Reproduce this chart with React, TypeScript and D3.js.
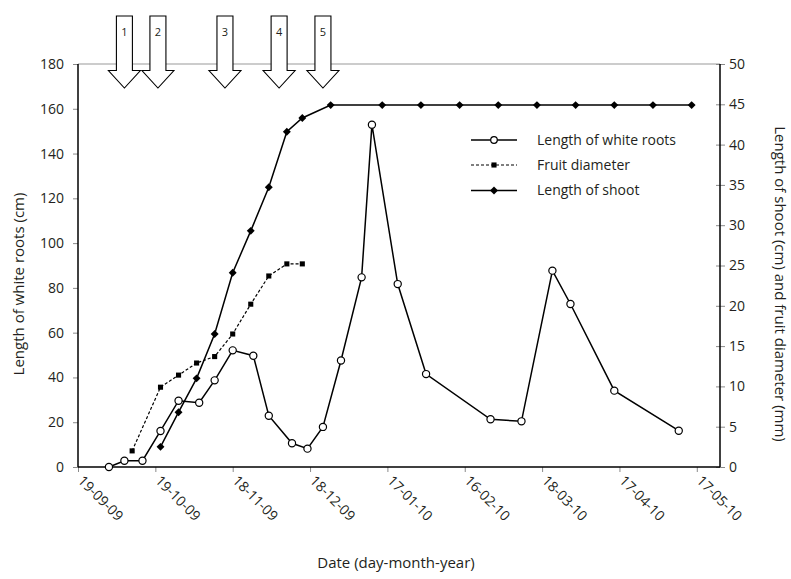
import React, { useEffect, useRef } from "react";
import * as d3 from "d3";

// tick labels on the date axis (day-month-year)
const dateTicks = ["19-09-09", "19-10-09", "18-11-09", "18-12-09", "17-01-10", "16-02-10", "18-03-10", "17-04-10", "17-05-10"];

const rootDates = [
  "2009-10-01", "2009-10-07", "2009-10-14", "2009-10-21", "2009-10-28", "2009-11-05",
  "2009-11-11", "2009-11-18", "2009-11-26", "2009-12-02", "2009-12-11", "2009-12-17",
  "2009-12-23", "2009-12-30", "2010-01-07", "2010-01-11", "2010-01-21", "2010-02-01",
  "2010-02-26", "2010-03-10", "2010-03-22", "2010-03-29", "2010-04-15", "2010-05-10",
];
const rootLength = [0, 2.8, 2.8, 16.1, 29.6, 28.7, 38.7, 52.1, 49.7, 22.9, 10.6, 8.2, 17.9, 47.6, 84.7, 152.9, 81.7, 41.5, 21.3, 20.4, 87.7, 72.8, 34.1, 16.2];

const fruitDates = [
  "2009-10-10", "2009-10-21", "2009-10-28", "2009-11-04", "2009-11-11",
  "2009-11-18", "2009-11-25", "2009-12-02", "2009-12-09", "2009-12-15",
];
const fruitDiameter = [2.0, 9.9, 11.4, 12.9, 13.7, 16.5, 20.2, 23.7, 25.2, 25.2];

const shootDates = [
  "2009-10-21", "2009-10-28", "2009-11-04", "2009-11-11", "2009-11-18", "2009-11-25",
  "2009-12-02", "2009-12-09", "2009-12-15", "2009-12-26", "2010-01-15", "2010-01-30",
  "2010-02-14", "2010-03-01", "2010-03-16", "2010-03-31", "2010-04-15", "2010-04-30", "2010-05-15",
];
const shootLength = [2.5, 6.8, 11.0, 16.5, 24.1, 29.3, 34.7, 41.6, 43.3, 44.9, 44.9, 44.9, 44.9, 44.9, 44.9, 44.9, 44.9, 44.9, 44.9];

// numbered treatment arrows above the plot
const arrowDates = ["2009-10-07", "2009-10-20", "2009-11-15", "2009-12-06", "2009-12-23"];
const arrowLabels = ["1", "2", "3", "4", "5"];

const legendLabels = ["Length of white roots", "Fruit diameter", "Length of shoot"];

const FONT = "'Open Sans', sans-serif";
const TEXT = "#231f20";

export default function App() {
  const ref = useRef<SVGSVGElement>(null);

  function drawChart() {
    const svg = d3.select(ref.current);
    svg.selectAll("*").remove();
    const width = 791;
    const height = 579;
    const marginLeft = 78;
    const marginRight = 71;
    const marginTop = 64;
    const marginBottom = 112;

    const parse = d3.utcParse("%Y-%m-%d");
    const parseTick = d3.utcParse("%d-%m-%y");

    const x = d3
      .scaleUtc()
      .domain([parse("2009-09-19"), parse("2010-05-26")])
      .range([marginLeft, width - marginRight]);
    const yLeft = d3.scaleLinear().domain([0, 180]).range([height - marginBottom, marginTop]);
    const yRight = d3.scaleLinear().domain([0, 50]).range([height - marginBottom, marginTop]);

    svg.attr("width", width).attr("height", height).attr("viewBox", [0, 0, width, height]);

    const x0 = marginLeft;
    const x1 = width - marginRight;
    const yb = height - marginBottom;

    // top border
    svg.append("line").attr("x1", x0).attr("x2", x1).attr("y1", marginTop).attr("y2", marginTop)
      .attr("stroke", "#9a9a9a").attr("stroke-width", 1.2);

    // left axis
    svg
      .append("g")
      .attr("transform", `translate(${x0},0)`)
      .call(d3.axisLeft(yLeft).tickValues(d3.range(0, 181, 20)).tickSize(5).tickPadding(9))
      .call((g) => g.select(".domain").remove())
      .call((g) => g.selectAll(".tick line").attr("stroke", "#8a8a8a"))
      .call((g) => g.selectAll("text").attr("font-family", FONT).attr("font-size", 14).attr("fill", TEXT));

    // right axis
    svg
      .append("g")
      .attr("transform", `translate(${x1},0)`)
      .call(d3.axisRight(yRight).tickValues(d3.range(0, 51, 5)).tickSize(5).tickPadding(4))
      .call((g) => g.select(".domain").remove())
      .call((g) => g.selectAll(".tick line").attr("x1", -4).attr("stroke", "#8a8a8a"))
      .call((g) => g.selectAll("text").attr("font-family", FONT).attr("font-size", 14).attr("fill", TEXT));

    // bottom axis
    const tickDates = dateTicks.map((t) => parseTick(t));
    svg
      .append("g")
      .attr("transform", `translate(0,${yb})`)
      .call(d3.axisBottom(x).tickValues(tickDates).tickSize(5).tickFormat((d, i) => dateTicks[i]))
      .call((g) => g.select(".domain").remove())
      .call((g) => g.selectAll(".tick line").attr("stroke", "#8a8a8a"))
      .call((g) =>
        g
          .selectAll("text")
          .attr("font-family", FONT)
          .attr("font-size", 14)
          .attr("fill", TEXT)
          .attr("text-anchor", "start")
          .attr("dy", "0.35em")
          .attr("y", 0)
          .attr("transform", "translate(2,11) rotate(45)")
      );

    // axis lines
    svg.append("line").attr("x1", x0).attr("x2", x0).attr("y1", marginTop).attr("y2", yb).attr("stroke", "#000").attr("stroke-width", 1.5);
    svg.append("line").attr("x1", x1).attr("x2", x1).attr("y1", marginTop).attr("y2", yb).attr("stroke", "#000").attr("stroke-width", 1.5);
    svg.append("line").attr("x1", x0).attr("x2", x1).attr("y1", yb).attr("y2", yb).attr("stroke", "#000").attr("stroke-width", 1.5);

    // axis titles
    svg.append("text")
      .attr("transform", `translate(19,284) rotate(-90)`)
      .attr("text-anchor", "middle").attr("dy", "0.35em")
      .attr("font-family", FONT).attr("font-size", 15).attr("fill", TEXT)
      .text("Length of white roots (cm)");
    svg.append("text")
      .attr("transform", `translate(780,284) rotate(90)`)
      .attr("text-anchor", "middle").attr("dy", "0.35em")
      .attr("font-family", FONT).attr("font-size", 15).attr("fill", TEXT)
      .text("Length of shoot (cm) and fruit diameter (mm)");
    svg.append("text")
      .attr("x", 396).attr("y", 568)
      .attr("text-anchor", "middle")
      .attr("font-family", FONT).attr("font-size", 15).attr("fill", TEXT)
      .text("Date (day-month-year)");

    const roots = rootDates.map((d, i) => ({ date: parse(d), value: rootLength[i] }));
    const fruit = fruitDates.map((d, i) => ({ date: parse(d), value: fruitDiameter[i] }));
    const shoot = shootDates.map((d, i) => ({ date: parse(d), value: shootLength[i] }));

    const lineLeft = d3.line<any>().x((d) => x(d.date)).y((d) => yLeft(d.value));
    const lineRight = d3.line<any>().x((d) => x(d.date)).y((d) => yRight(d.value));

    const plot = svg.append("g");

    plot.append("path").datum(fruit).attr("d", lineRight).attr("fill", "none")
      .attr("stroke", "#000").attr("stroke-width", 1.2).attr("stroke-dasharray", "3,2");
    plot.append("path").datum(shoot).attr("d", lineRight).attr("fill", "none")
      .attr("stroke", "#000").attr("stroke-width", 1.5);
    plot.append("path").datum(roots).attr("d", lineLeft).attr("fill", "none")
      .attr("stroke", "#000").attr("stroke-width", 1.5);

    const diamond = d3.symbol().type(d3.symbolDiamond2).size(40);
    const square = d3.symbol().type(d3.symbolSquare).size(26);

    plot.selectAll(".fruit").data(fruit).join("path")
      .attr("transform", (d) => `translate(${x(d.date)},${yRight(d.value)})`)
      .attr("d", square).attr("fill", "#000");
    plot.selectAll(".shoot").data(shoot).join("path")
      .attr("transform", (d) => `translate(${x(d.date)},${yRight(d.value)})`)
      .attr("d", diamond).attr("fill", "#000");
    plot.selectAll(".root").data(roots).join("circle")
      .attr("cx", (d) => x(d.date)).attr("cy", (d) => yLeft(d.value)).attr("r", 3.6)
      .attr("fill", "#fff").attr("stroke", "#000").attr("stroke-width", 1.2);

    // legend
    const legend = svg.append("g");
    const legendY = [140, 165, 190.5];
    legendLabels.forEach((label, i) => {
      const g = legend.append("g").attr("transform", `translate(0,${legendY[i]})`);
      const line = g.append("line").attr("x1", 471).attr("x2", 517).attr("stroke", "#000");
      if (i === 1) line.attr("stroke-width", 1.1).attr("stroke-dasharray", "3,2");
      else line.attr("stroke-width", 1.5);
      if (i === 0) g.append("circle").attr("cx", 494).attr("r", 3.3).attr("fill", "#fff").attr("stroke", "#000").attr("stroke-width", 1.2);
      if (i === 1) g.append("path").attr("transform", "translate(494,0)").attr("d", square).attr("fill", "#000");
      if (i === 2) g.append("path").attr("transform", "translate(494,0)").attr("d", diamond).attr("fill", "#000");
      g.append("text").attr("x", 537).attr("dy", "0.35em")
        .attr("font-family", FONT).attr("font-size", 14).attr("fill", TEXT).text(label);
    });

    // arrows
    const arrows = svg.append("g");
    arrowDates.forEach((d, i) => {
      const cx = x(parse(d));
      const pts = [
        [cx - 8, 16], [cx + 8, 16], [cx + 8, 70.5], [cx + 16, 70.5],
        [cx, 88], [cx - 16, 70.5], [cx - 8, 70.5],
      ];
      arrows.append("path").attr("d", d3.line()(pts as any) + "Z")
        .attr("fill", "#fff").attr("stroke", "#000").attr("stroke-width", 1.1);
      arrows.append("text").attr("x", cx).attr("y", 32).attr("dy", "0.35em")
        .attr("text-anchor", "middle").attr("font-family", FONT).attr("font-size", 11).attr("fill", TEXT)
        .text(arrowLabels[i]);
    });
  }

  useEffect(() => {
    drawChart();
  }, []);

  return <svg ref={ref} style={{ position: "absolute", left: 0, top: 0 }} />;
}
